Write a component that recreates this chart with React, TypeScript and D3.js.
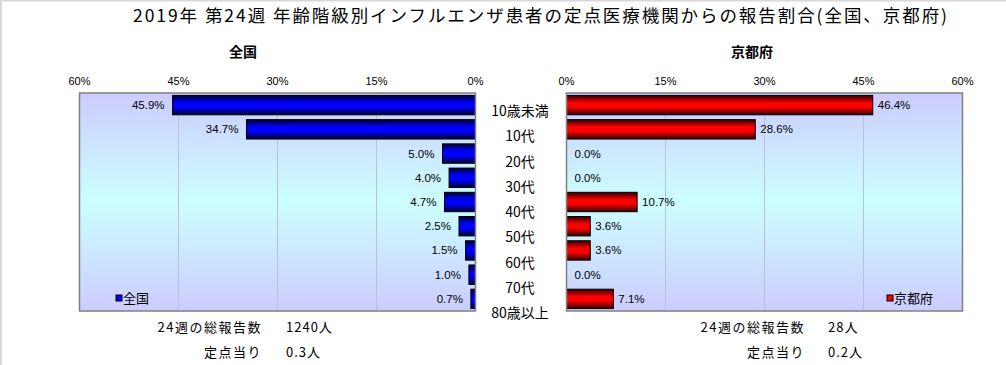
import React from "react";
import * as d3 from "d3";

const categories = ["10歳未満", "10代", "20代", "30代", "40代", "50代", "60代", "70代", "80歳以上"];
const nationalValues = [45.9, 34.7, 5.0, 4.0, 4.7, 2.5, 1.5, 1.0, 0.7];
const kyotoValues = [46.4, 28.6, 0.0, 0.0, 10.7, 3.6, 3.6, 0.0, 7.1];
const tickValues = [0, 15, 30, 45, 60];
const titleText = "2019年 第24週 年齢階級別インフルエンザ患者の定点医療機関からの報告割合(全国、京都府)";
const seriesNames = ["全国", "京都府"];
const totalLabels = ["24週の総報告数", "定点当り"];
const nationalTotals = ["1240人", "0.3人"];
const kyotoTotals = ["28人", "0.2人"];

const W = 1006;
const H = 365;
const TOP = 93;
const BOTTOM = 311;
const JP = "'Noto Sans CJK JP', 'Noto Sans', sans-serif";
const NUM = "'Liberation Sans', Arial, sans-serif";

export default function App() {
  const xLeft = d3.scaleLinear().domain([0, 60]).range([475.5, 79.5]);
  const xRight = d3.scaleLinear().domain([0, 60]).range([566.5, 962.5]);
  const y = d3.scaleBand<string>().domain(categories).range([TOP, BOTTOM]).paddingInner(0.2).paddingOuter(0.1);
  const yLabel = d3.scalePoint<string>().domain(categories).range([111, 313]);
  const fmt = (v: number) => v.toFixed(1) + "%";

  const panel = (
    side: "L" | "R",
    values: number[],
    x: d3.ScaleLinear<number, number>,
    fillId: string,
    legendColor: string,
    name: string
  ) => {
    const x0 = Math.min(x(0), x(60));
    const x1 = Math.max(x(0), x(60));
    return (
      <g>
        <rect x={x0} y={TOP} width={x1 - x0} height={BOTTOM - TOP} fill="url(#bgGrad)" />
        {tickValues
          .filter((t) => t !== 0 && t !== 60)
          .map((t) => (
            <line key={t} x1={x(t)} x2={x(t)} y1={TOP} y2={BOTTOM} stroke="#c0c0cc" strokeWidth={1} />
          ))}
        {tickValues.map((t) => (
          <text key={"t" + t} x={x(t)} y={85} textAnchor="middle" fontFamily={NUM} fontSize={11} fill="#000">
            {t + "%"}
          </text>
        ))}
        {categories.map((c, i) => {
          const v = values[i];
          const bx = Math.min(x(0), x(v));
          const bw = Math.abs(x(v) - x(0));
          const by = y(c)!;
          const bh = y.bandwidth();
          return (
            <g key={c}>
              {v > 0 && (
                <rect x={bx} y={by} width={bw} height={bh} fill={`url(#${fillId})`} stroke="#000" strokeWidth={1} />
              )}
              <text
                x={side === "L" ? x(v) - 8 : x(v) + (v > 0 ? 5 : 8)}
                y={by + bh / 2 + 4}
                textAnchor={side === "L" ? "end" : "start"}
                fontFamily={NUM}
                fontSize={11.5}
                fill="#000"
              >
                {fmt(v)}
              </text>
            </g>
          );
        })}
        <rect x={x0} y={TOP} width={x1 - x0} height={BOTTOM - TOP} fill="none" stroke="#808080" strokeWidth={1.5} />
        {side === "L" ? (
          <g>
            <rect x={116} y={295} width={6} height={6} fill={legendColor} stroke="#000" strokeWidth={1} />
            <text x={123} y={303} fontFamily={JP} fontSize={13} fill="#000">
              {name}
            </text>
          </g>
        ) : (
          <g>
            <rect x={887} y={295} width={6} height={6} fill={legendColor} stroke="#000" strokeWidth={1} />
            <text x={894} y={303} fontFamily={JP} fontSize={13} fill="#000">
              {name}
            </text>
          </g>
        )}
      </g>
    );
  };

  return (
    <svg
      width={W}
      height={H}
      style={{ position: "absolute", left: 0, top: 0, background: "#fff" }}
      xmlns="http://www.w3.org/2000/svg"
    >
      <defs>
        <linearGradient id="bgGrad" x1="0" y1="0" x2="0" y2="1">
          <stop offset="0" stopColor="#ccccff" />
          <stop offset="0.5" stopColor="#ccffff" />
          <stop offset="1" stopColor="#ccccff" />
        </linearGradient>
        <linearGradient id="blueGrad" x1="0" y1="0" x2="0" y2="1">
          <stop offset="0" stopColor="#000030" />
          <stop offset="0.38" stopColor="#0000ff" />
          <stop offset="0.6" stopColor="#0000ff" />
          <stop offset="1" stopColor="#000030" />
        </linearGradient>
        <linearGradient id="redGrad" x1="0" y1="0" x2="0" y2="1">
          <stop offset="0" stopColor="#300000" />
          <stop offset="0.38" stopColor="#ff0000" />
          <stop offset="0.6" stopColor="#ff0000" />
          <stop offset="1" stopColor="#300000" />
        </linearGradient>
      </defs>
      <rect x={0} y={0} width={W} height={H} fill="#fff" />
      <line x1={0} x2={W} y1={0.75} y2={0.75} stroke="#d8d8d8" strokeWidth={1.5} />
      <line x1={1} x2={1} y1={0} y2={H} stroke="#d8d8d8" strokeWidth={2} />

      <text
        x={133}
        y={22}
        fontFamily={JP}
        fontSize={17.5}
        textLength={814}
        lengthAdjust="spacing"
        fill="#000"
      >
        {titleText}
      </text>

      <text x={243} y={57} textAnchor="middle" fontFamily={JP} fontSize={14} fontWeight="bold" fill="#000">
        {seriesNames[0]}
      </text>
      <text x={752} y={57} textAnchor="middle" fontFamily={JP} fontSize={14} fontWeight="bold" fill="#000">
        {seriesNames[1]}
      </text>

      {panel("L", nationalValues, xLeft, "blueGrad", "#0000ff", seriesNames[0])}
      {panel("R", kyotoValues, xRight, "redGrad", "#ff0000", seriesNames[1])}

      {categories.map((c) => (
        <text key={c} x={520} y={yLabel(c)! + 5} textAnchor="middle" fontFamily={JP} fontSize={14} fill="#000">
          {c}
        </text>
      ))}

      {totalLabels.map((lab, i) => (
        <g key={lab}>
          <text x={262} y={332 + i * 25} textAnchor="end" fontFamily={JP} fontSize={13} fill="#000" letterSpacing={1.5}>
            {lab}
          </text>
          <text x={286} y={332 + i * 25} fontFamily={JP} fontSize={13} fill="#000" letterSpacing={1}>
            {nationalTotals[i]}
          </text>
          <text x={805} y={332 + i * 25} textAnchor="end" fontFamily={JP} fontSize={13} fill="#000" letterSpacing={1.5}>
            {lab}
          </text>
          <text x={828} y={332 + i * 25} fontFamily={JP} fontSize={13} fill="#000" letterSpacing={1}>
            {kyotoTotals[i]}
          </text>
        </g>
      ))}
    </svg>
  );
}
